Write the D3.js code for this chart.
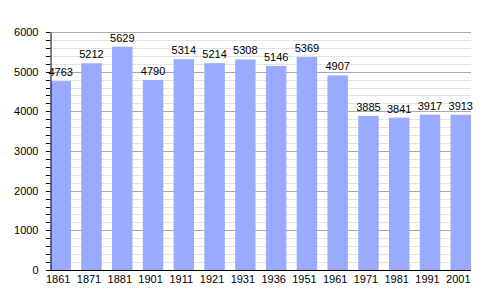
<!DOCTYPE html>
<html>
<head>
<meta charset="utf-8">
<script src="https://cdn.jsdelivr.net/npm/d3@7"></script>
<style>
  body { margin: 0; background: #fff; }
  text { font-family: "Liberation Sans", Arial, sans-serif; font-size: 11px; fill: #000; }
</style>
</head>
<body>
<script>
// data
var years = ["1861", "1871", "1881", "1901", "1911", "1921", "1931", "1936", "1951", "1961", "1971", "1981", "1991", "2001"];
var population = [4763, 5212, 5629, 4790, 5314, 5214, 5308, 5146, 5369, 4907, 3885, 3841, 3917, 3913];
var yTicks = [0, 1000, 2000, 3000, 4000, 5000, 6000];

var width = 500, height = 300;
var margin = { top: 32, right: 29, bottom: 30, left: 50 };

var svg = d3.select("body")
    .append("svg")
    .attr("width", width)
    .attr("height", height);

var x = d3.scaleBand()
    .domain(years)
    .range([margin.left + 0.5, width - margin.right])
    .paddingInner(0.335)
    .paddingOuter(0);

var y = d3.scaleLinear()
    .domain([0, 6000])
    .range([height - margin.bottom, margin.top]);

// minor grid every 200
var minor = d3.range(200, 6001, 200).filter(function (v) { return v % 1000 != 0; });
svg.append("g")
    .selectAll("line")
    .data(minor)
    .enter().append("line")
    .attr("x1", margin.left)
    .attr("x2", width - margin.right)
    .attr("y1", function (d) { return Math.round(y(d)) + 0.5; })
    .attr("y2", function (d) { return Math.round(y(d)) + 0.5; })
    .attr("stroke", "#e2e2e2");

// major grid
svg.append("g")
    .selectAll("line")
    .data(yTicks.slice(1))
    .enter().append("line")
    .attr("x1", margin.left)
    .attr("x2", width - margin.right)
    .attr("y1", function (d) { return Math.round(y(d)) + 0.5; })
    .attr("y2", function (d) { return Math.round(y(d)) + 0.5; })
    .attr("stroke", "#a8a8a8");

// bars
svg.append("g")
    .selectAll("rect")
    .data(population)
    .enter().append("rect")
    .attr("x", function (d, i) { return x(years[i]); })
    .attr("y", function (d) { return y(d); })
    .attr("width", x.bandwidth())
    .attr("height", function (d) { return y(0) - y(d); })
    .attr("fill", "#99aaff");

// value labels
svg.append("g")
    .selectAll("text")
    .data(population)
    .enter().append("text")
    .attr("x", function (d, i) { return x(years[i]) + x.bandwidth() / 2; })
    .attr("y", function (d) { return y(d) - 5; })
    .attr("text-anchor", "middle")
    .text(function (d) { return d; });

// y axis
var yAxis = svg.append("g")
    .attr("transform", "translate(" + (margin.left + 0.5) + ",0)")
    .call(d3.axisLeft(y).tickValues(yTicks).tickSize(0).tickPadding(12).tickFormat(d3.format("d")));
yAxis.select(".domain").attr("stroke", "#000");
yAxis.selectAll("text").style("font-size", "11px").style("font-family", "Liberation Sans, Arial, sans-serif");

// minor ticks on y axis
svg.append("g")
    .selectAll("line")
    .data(d3.range(0, 6001, 200))
    .enter().append("line")
    .attr("x1", margin.left - 4)
    .attr("x2", margin.left)
    .attr("y1", function (d) { return Math.round(y(d)) + 0.5; })
    .attr("y2", function (d) { return Math.round(y(d)) + 0.5; })
    .attr("stroke", "#000");

// x axis
var xAxis = svg.append("g")
    .attr("transform", "translate(0," + (height - margin.bottom + 0.5) + ")")
    .call(d3.axisBottom(x).tickSize(0).tickPadding(5));
xAxis.select(".domain").attr("stroke", "#000").attr("d", "M" + margin.left + ",0H" + (width - margin.right));
xAxis.selectAll("text")
    .attr("dx", "-2.5")
    .style("font-size", "11px")
    .style("font-family", "Liberation Sans, Arial, sans-serif");
</script>
</body>
</html>
